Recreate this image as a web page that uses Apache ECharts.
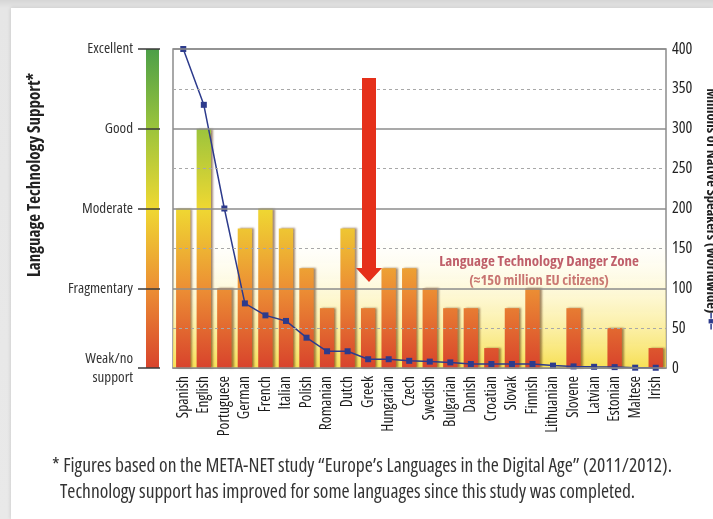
<!DOCTYPE html>
<html>
<head>
<meta charset="utf-8">
<script src="https://cdn.jsdelivr.net/npm/echarts@6/dist/echarts.min.js"></script>
<style>
  html, body { margin: 0; padding: 0; }
  body {
    width: 713px; height: 519px; overflow: hidden;
    background: linear-gradient(#d6d6d6, #e6e6e6 8px, #e9e9e9);
  }
  #card {
    position: absolute; left: 11px; top: 8px; right: 0; bottom: 0;
    background: #fff; box-shadow: 0 0 4px rgba(0,0,0,0.15);
  }
  #chart { position: absolute; left: 0; top: 0; width: 713px; height: 519px; }
</style>
</head>
<body>
<div id="card"></div>
<div id="chart"></div>
<script>
var languages = ['Spanish', 'English', 'Portuguese', 'German', 'French', 'Italian', 'Polish',
  'Romanian', 'Dutch', 'Greek', 'Hungarian', 'Czech', 'Swedish', 'Bulgarian', 'Danish',
  'Croatian', 'Slovak', 'Finnish', 'Lithuanian', 'Slovene', 'Latvian', 'Estonian', 'Maltese', 'Irish']
// support level, 0 = weak/no support ... 4 = excellent
var support = [2, 3, 1, 1.75, 2, 1.75, 1.25, 0.75, 1.75, 0.75, 1.25, 1.25, 1, 0.75, 0.75,
  0.25, 0.75, 1, 0, 0.75, 0, 0.5, 0, 0.25]
// millions of native speakers
var speakers = [400, 330, 200, 81, 66, 59, 38, 21, 21, 11, 11, 9, 8, 7, 5,
  5, 5, 5, 3, 2, 1.5, 1.1, 0.4, 0.3]
var supportLabels = ['Weak/no\nsupport', 'Fragmentary', 'Moderate', 'Good', 'Excellent']
var speakerTicks = [0, 50, 100, 150, 200, 250, 300, 350, 400]

// Open Sans has a condensed cut, reached through font-stretch (passed in fontStyle)
var font = '"Open Sans", sans-serif'
var cond = 'condensed'
var levelStops = [
  { offset: 0, color: '#4c9f48' },
  { offset: 0.25, color: '#9cc43c' },
  { offset: 0.5, color: '#efd832' },
  { offset: 0.75, color: '#ec8f34' },
  { offset: 1, color: '#d8432c' }
]

var chart = echarts.init(document.getElementById('chart'))
chart.setOption({
  animation: false,
  textStyle: { fontFamily: font },
  grid: {
    left: 173, right: 47, top: 49, bottom: 151,
    outerBoundsMode: 'none', containLabel: false,
    show: true, borderColor: '#8c8c8c', borderWidth: 1.5, backgroundColor: 'transparent'
  },
  xAxis: {
    type: 'category',
    data: languages,
    axisLine: { lineStyle: { color: '#8c8c8c', width: 1.5 } },
    axisTick: { show: false },
    axisLabel: { rotate: 90, margin: 8, color: '#1a1a1a', fontSize: 15.5, fontStyle: cond, interval: 0 }
  },
  yAxis: [{
    type: 'value',
    min: 0, max: 4, interval: 1,
    offset: 13,
    z: 10,
    axisLine: { show: false },
    axisTick: { show: true, length: 22, lineStyle: { color: '#3a3a3a', width: 1.5 } },
    axisLabel: {
      margin: 27, color: '#333', fontSize: 15, fontStyle: cond, lineHeight: 19,
      formatter: function (v) { return supportLabels[v] }
    },
    splitLine: { lineStyle: { color: '#8c8c8c', width: 1.5 } },
    minorTick: { show: false, splitNumber: 2 },
    minorSplitLine: { show: true, lineStyle: { color: '#a8a8a8', width: 1, type: [3, 3] } }
  }, {
    type: 'value',
    position: 'right',
    min: speakerTicks[0], max: speakerTicks[speakerTicks.length - 1], interval: 50,
    axisLine: { show: false },
    axisTick: { show: false },
    splitLine: { show: false },
    axisLabel: { margin: 6, color: '#222', fontSize: 16, fontStyle: cond },
    name: '{t|Millions of Native Speakers (Worldwide)}{m|━■━}',
    nameLocation: 'middle',
    nameRotate: -90,
    nameGap: 37,
    nameTextStyle: {
      rich: {
        t: { fontFamily: font, fontStyle: cond, fontWeight: 'bold', fontSize: 14.5, color: '#222' },
        m: { fontSize: 9, color: '#2d3b8c' }
      }
    }
  }],
  series: [{
    type: 'line',
    yAxisIndex: 1,
    data: [],
    z: 1,
    silent: true,
    markArea: {
      silent: true,
      itemStyle: {
        color: new echarts.graphic.LinearGradient(0, 0, 0, 1, [
          { offset: 0, color: 'rgba(255,250,215,0)' },
          { offset: 1, color: '#f7e055' }
        ])
      },
      data: [[{ yAxis: 0 }, { yAxis: 165 }]]
    }
  }, {
    type: 'bar',
    yAxisIndex: 0,
    data: support,
    z: 2,
    barCategoryGap: '30%',
    itemStyle: {
      color: new echarts.graphic.LinearGradient(0, 49, 0, 368, levelStops, true),
      shadowColor: 'rgba(90,45,10,0.55)',
      shadowOffsetX: 2,
      shadowBlur: 2
    }
  }, {
    type: 'line',
    yAxisIndex: 1,
    data: speakers,
    z: 3,
    symbol: 'rect',
    symbolSize: 6,
    lineStyle: { color: '#2d3b8c', width: 1.5 },
    itemStyle: { color: '#2d3b8c' }
  }],
  graphic: [{
    type: 'rect',
    z: 1,
    shape: { x: 146, y: 49, width: 13, height: 319 },
    style: { fill: new echarts.graphic.LinearGradient(0, 0, 0, 1, levelStops) }
  }, {
    type: 'text',
    x: 35, y: 175, rotation: Math.PI / 2,
    style: {
      text: 'Language Technology Support*', fontFamily: font, fontStyle: cond, fontWeight: 'bold',
      fontSize: 17, fill: '#222', align: 'center', verticalAlign: 'middle'
    }
  }, {
    type: 'text',
    x: 539, y: 262,
    style: {
      text: 'Language Technology Danger Zone', fontFamily: font, fontStyle: cond, fontWeight: 'bold',
      fontSize: 15, fill: '#b03a55', align: 'center', verticalAlign: 'middle'
    }
  }, {
    type: 'text',
    x: 539, y: 281,
    style: {
      text: '(\u2248150 million EU citizens)', fontFamily: font, fontStyle: cond, fontWeight: 'bold',
      fontSize: 14.5, fill: '#b03a55', align: 'center', verticalAlign: 'middle'
    }
  }, {
    type: 'polygon',
    z: 100,
    shape: { points: [[362, 78], [376, 78], [376, 268], [382, 268], [369, 282], [356, 268], [362, 268]] },
    style: { fill: '#e5301a' }
  }, {
    type: 'text',
    x: 52, y: 466,
    style: {
      text: '* Figures based on the META-NET study \u201cEurope\u2019s Languages in the Digital Age\u201d (2011/2012).',
      fontFamily: font, fontStyle: cond, fontSize: 19.5, fill: '#333', verticalAlign: 'middle'
    }
  }, {
    type: 'text',
    x: 60, y: 492,
    style: {
      text: 'Technology support has improved for some languages since this study was completed.',
      fontFamily: font, fontStyle: cond, fontSize: 19.5, fill: '#333', verticalAlign: 'middle'
    }
  }]
})
</script>
</body>
</html>
